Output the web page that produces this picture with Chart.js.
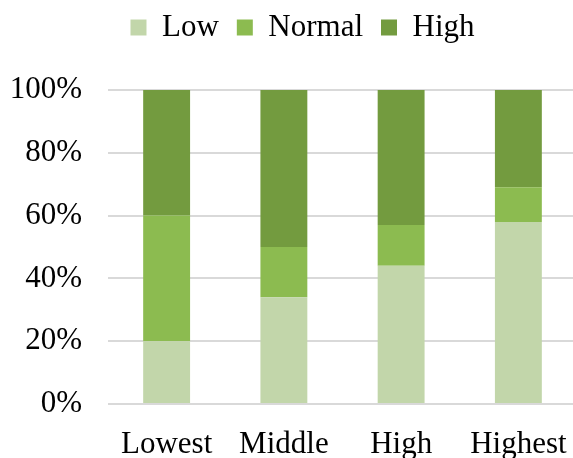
<!DOCTYPE html>
<html>
<head>
<meta charset="utf-8">
<script src="https://cdn.jsdelivr.net/npm/chart.js@4"></script>
<style>
  html, body { margin: 0; padding: 0; background: #fff; overflow: hidden; }
  #wrap { width: 577px; height: 458px; }
</style>
</head>
<body>
<div id="wrap"><canvas id="stackChart"></canvas></div>
<script>
const categories = ['Lowest', 'Middle', 'High', 'Highest'];
const lowValues = [20, 34, 44, 58];
const normalValues = [40, 16, 13, 11];
const highValues = [40, 50, 43, 31];

const serif = "'Liberation Serif', 'Times New Roman', serif";

// reserve room above the plot for the legend, then nudge the legend itself
const legendSpace = {
  id: 'legendSpace',
  beforeInit(chart) {
    const fit = chart.legend.fit;
    chart.legend.fit = function () {
      fit.bind(chart.legend)();
      this.height = 90;
    };
  },
  afterLayout(chart) {
    const lg = chart.legend;
    lg.left += 14;
    lg.right += 14;
    lg.top -= 6;
  }
};

const ctx = document.getElementById('stackChart').getContext('2d');

const stackChart = new Chart(ctx, {
  type: 'bar',
  data: {
    labels: categories,
    datasets: [
      { label: 'Low', data: lowValues, backgroundColor: '#c2d6aa' },
      { label: 'Normal', data: normalValues, backgroundColor: '#8cbb50' },
      { label: 'High', data: highValues, backgroundColor: '#739b3f' }
    ]
  },
  options: {
    responsive: true,
    maintainAspectRatio: false,
    animation: false,
    datasets: {
      bar: {
        barPercentage: 1,
        categoryPercentage: 0.4,
        borderWidth: 0
      }
    },
    layout: {
      padding: 0
    },
    plugins: {
      tooltip: { enabled: false },
      legend: {
        position: 'top',
        labels: {
          boxWidth: 16,
          boxHeight: 16,
          padding: 18,
          color: '#000',
          font: { family: serif, size: 31 }
        }
      }
    },
    scales: {
      x: {
        stacked: true,
        grid: { display: false, drawTicks: false },
        border: { display: false },
        ticks: {
          color: '#000',
          padding: 22,
          font: { family: serif, size: 31 }
        },
        afterFit(scale) {
          scale.height = 54;
          // labels fit inside their categories, no side padding needed
          scale.paddingLeft = 0;
          scale.paddingRight = 0;
        }
      },
      y: {
        stacked: true,
        min: 0,
        max: 100,
        grid: { color: '#d9d9d9', lineWidth: 2, drawTicks: false },
        border: { display: false },
        ticks: {
          stepSize: 20,
          color: '#000',
          padding: 26,
          font: { family: serif, size: 31 },
          callback: (v) => v + '%'
        },
        afterFit(scale) { scale.width = 108; }
      }
    }
  },
  plugins: [legendSpace]
});
</script>
</body>
</html>
